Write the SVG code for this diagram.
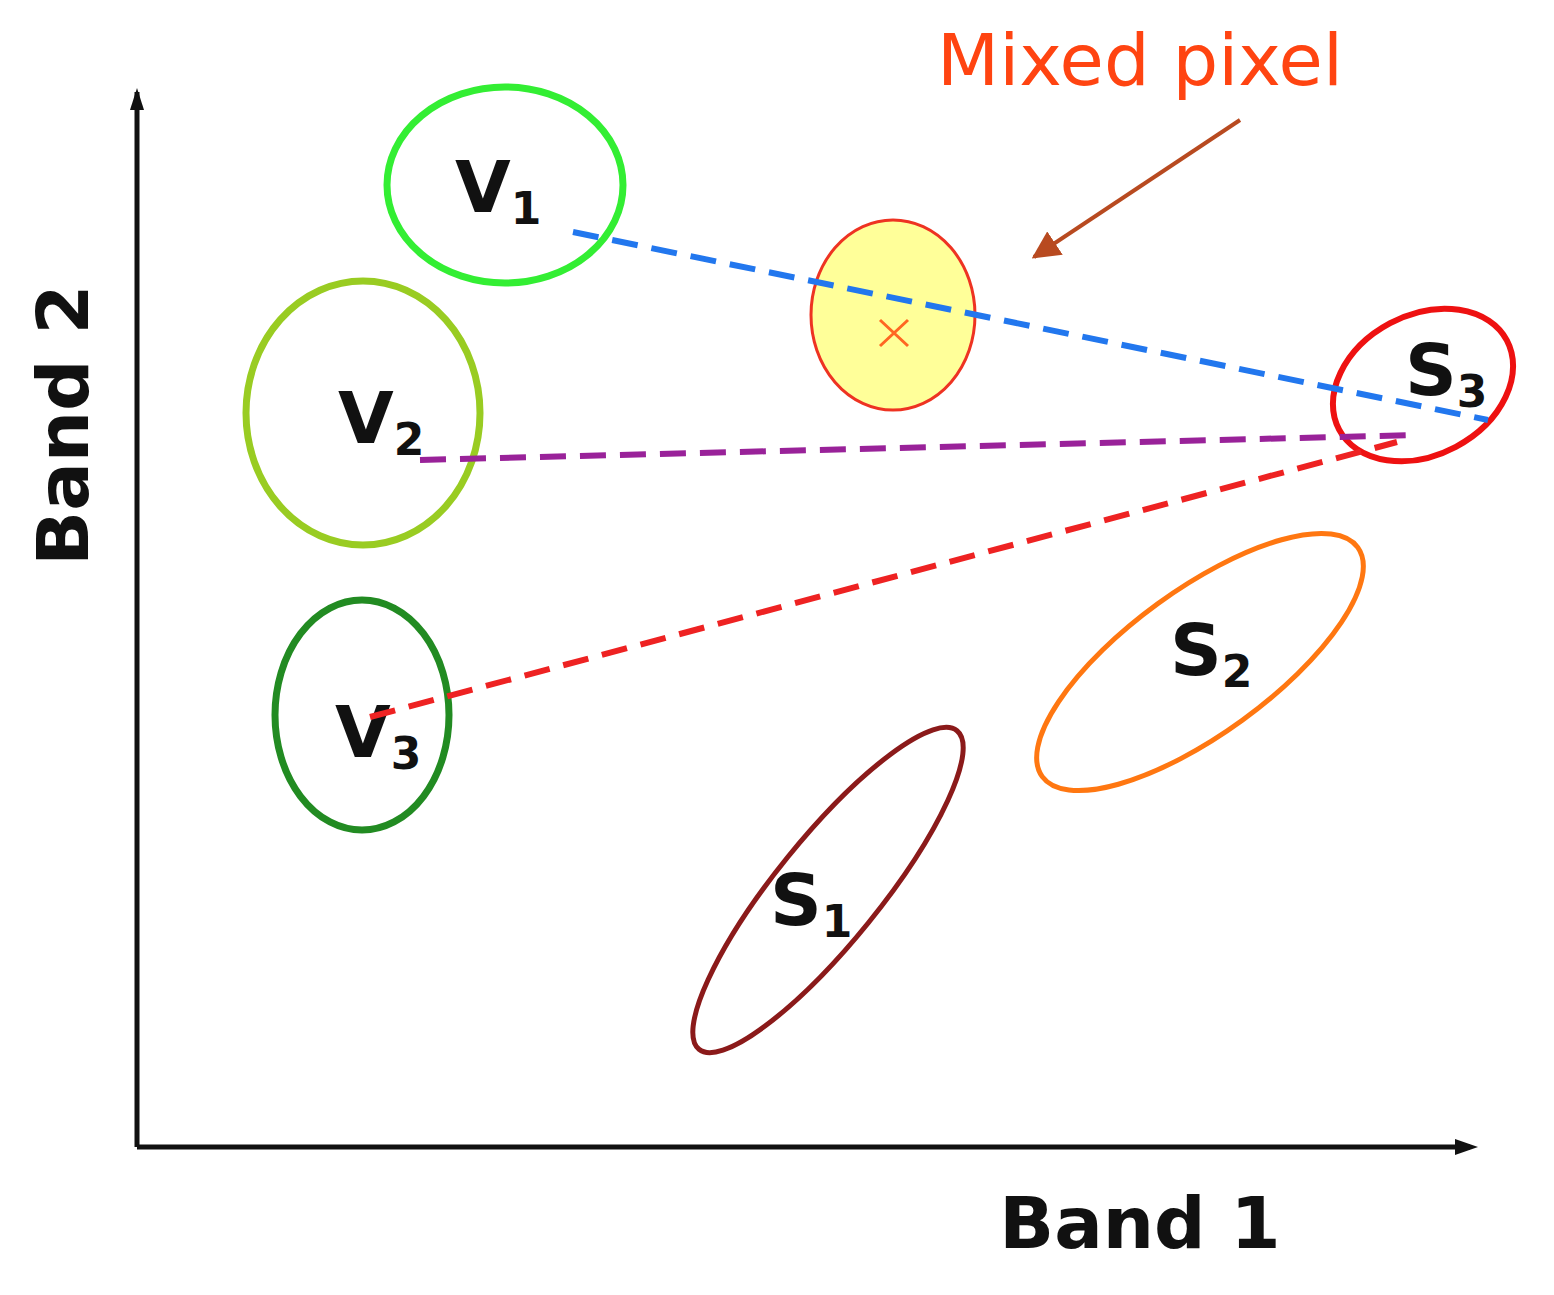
<svg xmlns="http://www.w3.org/2000/svg" width="1554" height="1295" viewBox="0 0 1554 1295">
<style>
.lbl{font-family:"DejaVu Sans","Liberation Sans",sans-serif;font-weight:bold;font-size:72px;fill:#111}
.sub{font-size:44px}
.ax{font-family:"DejaVu Sans","Liberation Sans",sans-serif;font-weight:bold;font-size:72px;fill:#111}
.dash{fill:none;stroke-width:6;stroke-dasharray:26 14}
</style>
<defs>
<marker id="ah" markerWidth="10" markerHeight="10" refX="9" refY="5" orient="auto" markerUnits="userSpaceOnUse" viewBox="0 0 10 10">
<path d="M0,0 L10,5 L0,10 L3,5 Z" fill="#111"/></marker>
<marker id="ah2" viewBox="0 0 10 10" refX="9" refY="5" markerWidth="28" markerHeight="28" orient="auto" markerUnits="userSpaceOnUse">
<path d="M0,0 L10,5 L0,10 Z" fill="#b84a20"/></marker>
</defs>
<rect width="1554" height="1295" fill="#fff"/>
<g id="axes">
<path d="M137,1147 V92" stroke="#111" stroke-width="5" fill="none"/>
<path d="M130,110 L137,88 L144,110 Z" fill="#111"/>
<path d="M137,1147 H1470" stroke="#111" stroke-width="5" fill="none"/>
<path d="M1455,1139 L1478,1147 L1455,1155 Z" fill="#111"/>
<text class="ax" transform="translate(88,425) rotate(-90)" text-anchor="middle">Band 2</text>
<text class="ax" x="1140" y="1248" text-anchor="middle">Band 1</text>
</g>
<g id="V1"><ellipse cx="505" cy="185" rx="118" ry="98" fill="none" stroke="#33ee33" stroke-width="7"/>
<text class="lbl" x="455" y="212">V<tspan class="sub" dy="12">1</tspan></text></g>
<g id="V2"><ellipse cx="363" cy="413" rx="117" ry="132" fill="none" stroke="#99cc22" stroke-width="7"/>
<text class="lbl" x="338" y="443">V<tspan class="sub" dy="12">2</tspan></text></g>
<g id="V3"><ellipse cx="362" cy="715" rx="87" ry="115" fill="none" stroke="#228b22" stroke-width="7"/>
<text class="lbl" x="335" y="757">V<tspan class="sub" dy="12">3</tspan></text></g>
<g id="mixed"><ellipse cx="893" cy="315" rx="82" ry="95" fill="#ffff99" stroke="#ee3322" stroke-width="3"/>
<path d="M880,320 L908,346 M908,320 L880,346" stroke="#ff6622" stroke-width="3"/></g>
<g id="S3"><ellipse cx="1423" cy="385" rx="95" ry="70" transform="rotate(-28 1423 385)" fill="none" stroke="#ee1111" stroke-width="6"/>
<text class="lbl" x="1405" y="395">S<tspan class="sub" dy="12">3</tspan></text></g>
<g id="S2"><ellipse cx="1200" cy="662" rx="195" ry="72" transform="rotate(-36 1200 662)" fill="none" stroke="#ff7711" stroke-width="5"/>
<text class="lbl" x="1170" y="675">S<tspan class="sub" dy="12">2</tspan></text></g>
<g id="S1"><ellipse cx="828" cy="890" rx="205" ry="52" transform="rotate(-51 828 890)" fill="none" stroke="#8b1a1a" stroke-width="5"/>
<text class="lbl" x="770" y="925">S<tspan class="sub" dy="12">1</tspan></text></g>
<g id="connectors">
<path class="dash" d="M573,232 L1488,420" stroke="#2277ee"/>
<path class="dash" d="M420,460 L1415,435" stroke="#992299"/>
<path class="dash" d="M370,717 L1397,442" stroke="#ee2222"/>
<path d="M1240,120 L1034,257" stroke="#b84a20" stroke-width="4" marker-end="url(#ah2)"/>
</g>
<text x="1140" y="85" text-anchor="middle" font-family="DejaVu Sans, sans-serif" font-size="72" fill="#ff4411">Mixed pixel</text>
</svg>
